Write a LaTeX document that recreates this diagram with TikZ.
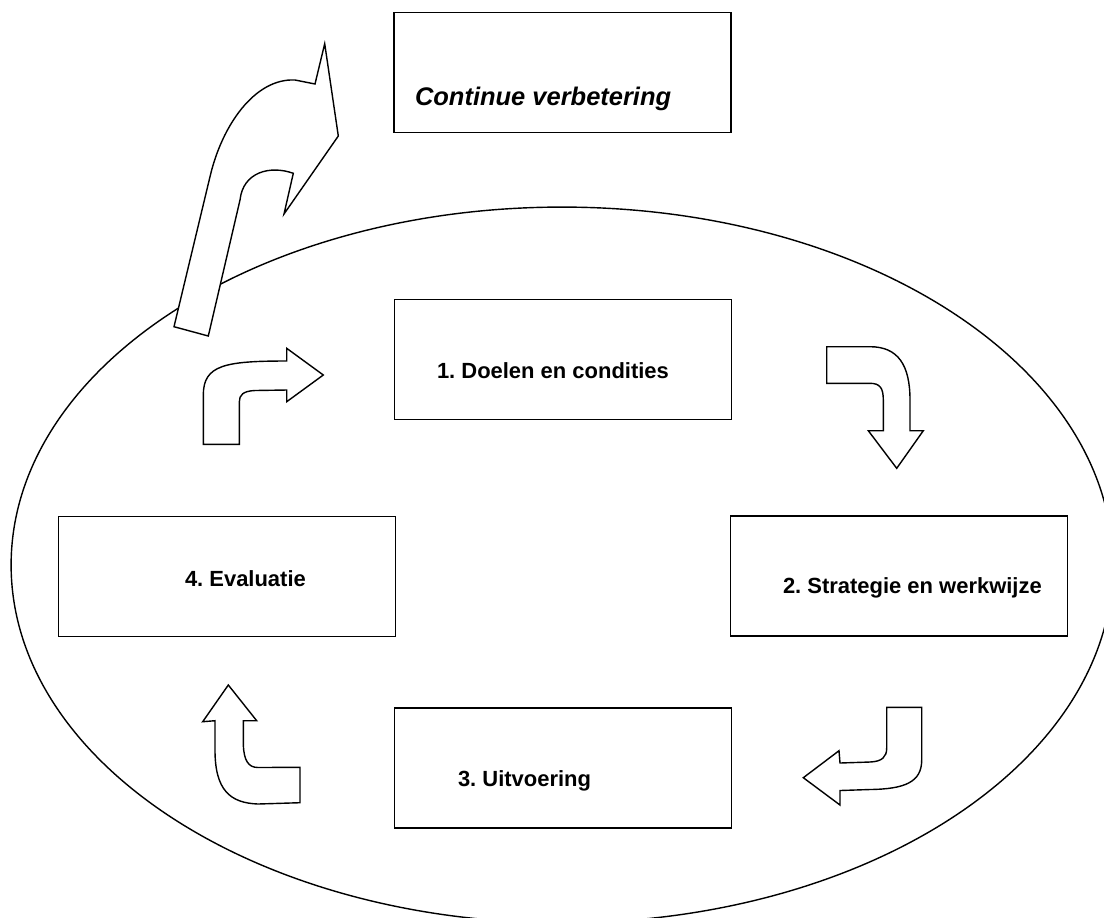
\documentclass[tikz,border=0pt]{standalone}
\usepackage{fontspec}
\setmainfont{Liberation Sans}
\frenchspacing
\begin{document}
\begin{tikzpicture}[x=0.02cm,y=-0.02cm,inner sep=0pt,outer sep=0pt,line width=0.8pt,
stepbox/.style={draw,fill=white,rectangle,minimum width=6.74cm,minimum height=2.4cm,line width=0.8pt},
steptext/.style={anchor=base west,font=\fontsize{12.5}{15}\selectfont\bfseries},
bentarrow/.style={draw,fill=white,line join=miter}]

\clip (0,0) rectangle (1104,917);

% cycle ellipse
\draw (562,565) ellipse [x radius=11.02cm,y radius=7.16cm];

% arrow out of the cycle
\draw[bentarrow] (174,326.7) -- (210,176.7) .. controls (222,125) and (255,78) .. (295,80) -- (315,84)
  -- (324.7,43.7) -- (338.3,136) -- (284,214) -- (293.3,173.3)
  .. controls (270,165) and (243,172) .. (240,200) -- (208.3,336) -- cycle;

% steps
\draw (562.5,72.5) node[stepbox] (cont) {};
\draw (563,359.5) node[stepbox] (doel) {};
\draw (899,576) node[stepbox] (strat) {};
\draw (563,768) node[stepbox] (uitv) {};
\draw (227,576.5) node[stepbox] (eval) {};

\draw (415,105) node[steptext,font=\fontsize{14.5}{17}\selectfont\bfseries\itshape] (conttxt) {Continue verbetering};
\draw (437,378) node[steptext] (doeltxt) {1. Doelen en condities};
\draw (783,593) node[steptext] (strattxt) {2. Strategie en werkwijze};
\draw (458,786) node[steptext] (uitvtxt) {3. Uitvoering};
\draw (185,586) node[steptext] (evaltxt) {4. Evaluatie};

% bent arrows between the steps
\draw[bentarrow] (203.3,444.3) -- (203.3,395) .. controls (203.3,365) and (225,361) .. (286.7,361)
  -- (286.7,348.3) -- (323.3,375) -- (286.7,401.7) -- (286.7,390) -- (255,390.5)
  .. controls (243,391) and (239.3,395) .. (239.3,402) -- (239.3,444.3) -- cycle;
\draw[bentarrow] (826.7,346.7) -- (870,346.7) .. controls (898,346.7) and (910,365) .. (910,400)
  -- (910,430.7) -- (923.3,430.7) -- (896.7,468.3) -- (868.3,430.7) -- (883.3,430.7) -- (883.3,400)
  .. controls (883.3,388) and (880,383.3) .. (870,383.3) -- (826.7,383.3) -- cycle;
\draw[bentarrow] (886.7,707.3) -- (921.7,707.3) -- (921.7,760) .. controls (921.7,782) and (905,789) .. (870,789.5)
  -- (840,790.5) -- (840,805) -- (803.3,777.7) -- (839,750.7) -- (840,763) -- (870,762)
  .. controls (882,761.5) and (886.7,757) .. (886.7,748) -- cycle;
\draw[bentarrow] (228.3,685) -- (256.7,720.7) -- (243.3,720.7) -- (243.3,745)
  .. controls (244,760) and (248,767.5) .. (258,767.5) -- (300,767.3) -- (300,802.7) -- (258,804)
  .. controls (230,803) and (215,790) .. (215,750) -- (215,720.7) -- (202.7,721.7) -- cycle;
\end{tikzpicture}
\end{document}
